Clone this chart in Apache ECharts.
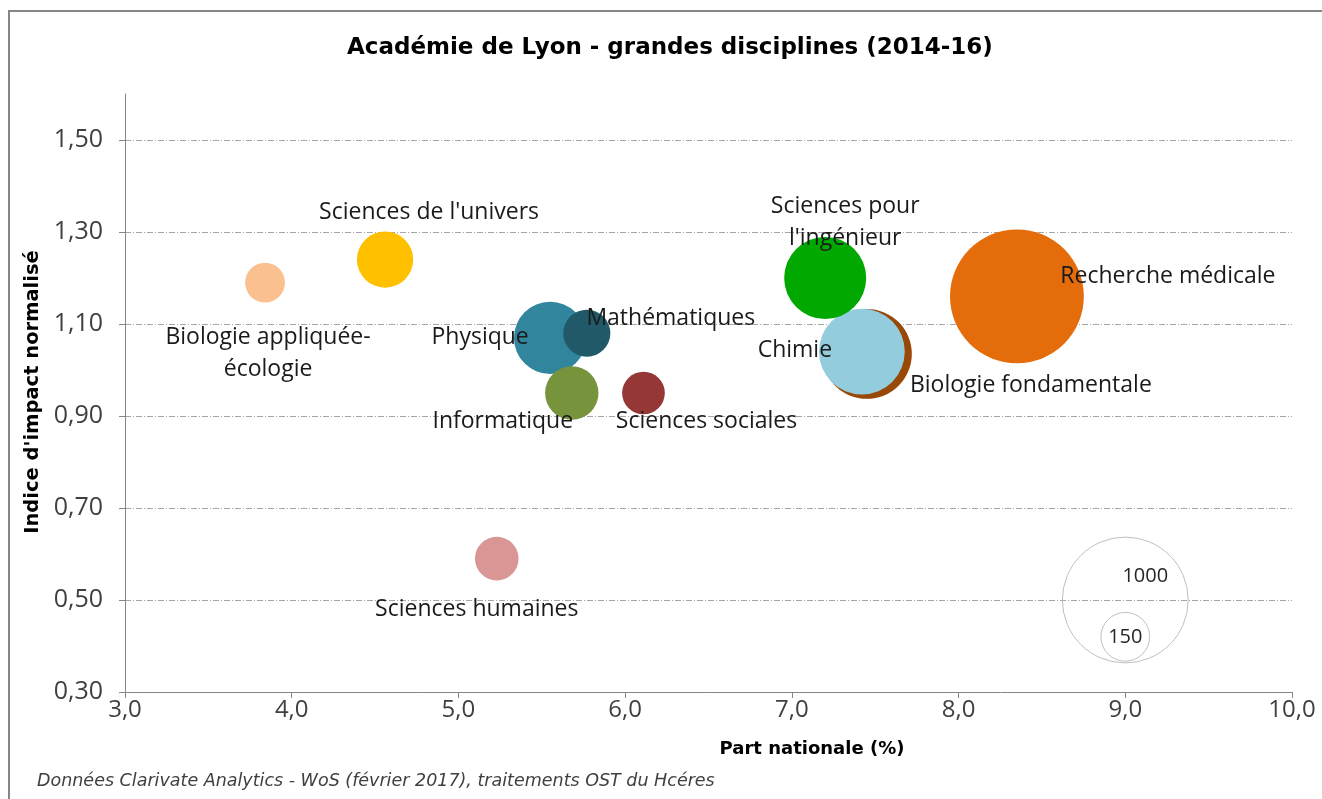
<!DOCTYPE html>
<html>
<head>
<meta charset="utf-8">
<title>Académie de Lyon - grandes disciplines (2014-16)</title>
<script src="https://cdn.jsdelivr.net/npm/echarts@6/dist/echarts.min.js"></script>
<style>
  html, body { margin: 0; padding: 0; background: #fff; }
  #chart { width: 1322px; height: 799px; }
</style>
</head>
<body>
<div id="chart"></div>
<script>
// données
var disciplines = ['Biologie appliquée-\nécologie', "Sciences de l'univers", 'Physique', 'Mathématiques',
  'Informatique', 'Sciences sociales', "Sciences pour\nl'ingénieur", 'Chimie',
  'Biologie fondamentale', 'Recherche médicale', 'Sciences humaines'];
var partNationale = [3.84, 4.56, 5.55, 5.77, 5.68, 6.11, 7.20, 7.42, 7.45, 8.35, 5.23];
var indiceImpact = [1.19, 1.24, 1.07, 1.08, 0.95, 0.95, 1.20, 1.04, 1.035, 1.16, 0.59];
var publications = [100, 200, 330, 140, 180, 115, 425, 465, 510, 1130, 120];

// bulles de légende (taille)
var legendSizes = [1000, 150];
var legendX = [9.0, 9.0];
var legendY = [0.50, 0.42];

var yTicks = [0.3, 0.5, 0.7, 0.9, 1.1, 1.3, 1.5];

// couleurs + décalage des étiquettes (style, pas des données)
var colors = ['#FAC090', '#FFC000', '#31859C', '#215968', '#77933C', '#953735',
  '#00A800', '#93CDDD', '#984807', '#E46C0A', '#D99694'];
var labelOffsets = [[3, 71], [44, -47], [-70, 0], [84, -15], [-69, 28], [63, 28],
  [20, -56], [-67, -1], [164, 32], [151, -20], [-20, 51]];

var labelFont = 'Open Sans';

function bubbleSize(v) {
  return 3.98 * Math.sqrt(v);
}

var bubbleData = [];
for (var i = 0; i < disciplines.length; i++) {
  bubbleData.push({
    name: disciplines[i],
    value: [partNationale[i], indiceImpact[i], publications[i]],
    itemStyle: { color: colors[i], opacity: 1 },
    label: { offset: labelOffsets[i] }
  });
}
// comme Excel : les grosses bulles derrière
bubbleData.sort(function (a, b) { return b.value[2] - a.value[2]; });

var legendData = [];
for (var j = 0; j < legendSizes.length; j++) {
  legendData.push({
    name: String(legendSizes[j]),
    value: [legendX[j], legendY[j], legendSizes[j]],
    label: { offset: j === 0 ? [20, -24] : [0, 0] }
  });
}

var myChart = echarts.init(document.getElementById('chart'));

var option = {
  animation: false,
  title: {
    text: 'Académie de Lyon - grandes disciplines (2014-16)',
    left: 347,
    top: 37,
    padding: 0,
    textStyle: { fontFamily: 'DejaVu Sans', fontWeight: 'bold', fontSize: 23, color: '#000' }
  },
  grid: { left: 125, right: 30, top: 94, bottom: 107 },
  xAxis: {
    type: 'value',
    min: 3,
    max: 10,
    interval: 1,
    axisLine: { show: true, lineStyle: { color: '#868686', width: 1 } },
    axisTick: { show: true, length: 6, lineStyle: { color: '#868686' } },
    axisLabel: {
      formatter: function (v) { return v.toFixed(1).replace('.', ','); },
      fontFamily: labelFont, fontSize: 24, color: '#404040', margin: 6
    },
    splitLine: { show: false }
  },
  yAxis: {
    type: 'value',
    min: 0.3,
    max: 1.6,
    interval: 0.2,
    axisLine: { show: true, lineStyle: { color: '#868686', width: 1 } },
    axisTick: { show: true, length: 6, customValues: yTicks, lineStyle: { color: '#868686' } },
    axisLabel: {
      customValues: yTicks,
      formatter: function (v) { return v.toFixed(2).replace('.', ','); },
      fontFamily: labelFont, fontSize: 25, color: '#404040', margin: 22
    },
    splitLine: {
      show: true,
      lineStyle: {
        // la dernière ligne (1,60) reste invisible
        color: ['#a6a6a6', '#a6a6a6', '#a6a6a6', '#a6a6a6', '#a6a6a6', '#a6a6a6', '#a6a6a6', 'rgba(0,0,0,0)'],
        width: 1,
        type: [6, 2, 1, 2]
      }
    }
  },
  graphic: [
    {
      type: 'rect', z: -10, silent: true,
      shape: { x: 9, y: 11, width: 1340, height: 820 },
      style: { fill: 'none', stroke: '#868686', lineWidth: 2 }
    },
    {
      type: 'text', x: 812, y: 749,
      style: {
        text: 'Part nationale (%)', fontFamily: 'DejaVu Sans', fontWeight: 'bold', fontSize: 18,
        fill: '#000', textAlign: 'center', textVerticalAlign: 'middle'
      }
    },
    {
      type: 'text', x: 33, y: 392, rotation: Math.PI / 2,
      style: {
        text: "Indice d'impact normalisé", fontFamily: 'DejaVu Sans', fontWeight: 'bold', fontSize: 19.5,
        fill: '#000', textAlign: 'center', textVerticalAlign: 'middle'
      }
    },
    {
      type: 'text', x: 37, y: 781,
      style: {
        text: 'Données Clarivate Analytics - WoS (février 2017), traitements OST du Hcéres',
        fontFamily: 'DejaVu Sans', fontStyle: 'italic', fontSize: 17.5,
        fill: '#404040', textAlign: 'left', textVerticalAlign: 'middle'
      }
    }
  ],
  series: [
    {
      name: 'legende',
      type: 'scatter',
      data: legendData,
      symbolSize: function (val) { return bubbleSize(val[2]); },
      itemStyle: { color: 'rgba(0,0,0,0)', borderColor: '#bfbfbf', borderWidth: 1, opacity: 1 },
      label: {
        show: true, position: 'inside', formatter: '{b}',
        fontFamily: labelFont, fontSize: 20, color: '#262626'
      },
      silent: true
    },
    {
      name: 'disciplines',
      type: 'scatter',
      data: bubbleData,
      symbolSize: function (val) { return bubbleSize(val[2]); },
      itemStyle: { opacity: 1 },
      label: {
        show: true, position: 'inside', formatter: '{b}', align: 'center',
        fontFamily: labelFont, fontSize: 23, lineHeight: 32, color: '#1a1a1a'
      },
      emphasis: { disabled: true }
    }
  ]
};

myChart.setOption(option);
</script>
</body>
</html>
